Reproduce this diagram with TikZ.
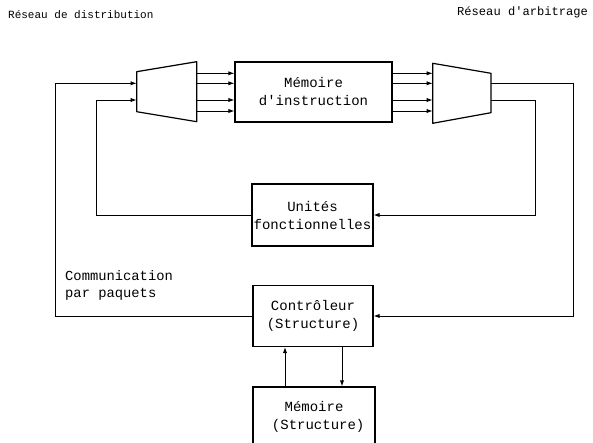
\documentclass[tikz,border=0pt]{standalone}
\usepackage{fontspec}
\setmonofont{Liberation Mono}
\usetikzlibrary{arrows.meta}
\tikzset{
  ln/.style={line width=0.9pt},
  arr/.style={ln,-{Latex[length=6pt,width=4.2pt]}},
  blk/.style={draw,line width=1.1pt,rectangle,inner sep=0pt,align=center,
    font=\ttfamily\fontsize{14}{18}\selectfont},
  trap/.style={draw,line width=1.2pt,line join=round},
  ttl/.style={inner sep=0pt,font=\ttfamily\fontsize{11}{14}\selectfont},
  lbl/.style={inner sep=0pt,align=left,font=\ttfamily\fontsize{13.8}{17.5}\selectfont}
}
\begin{document}
\begin{tikzpicture}[x=1pt,y=-1pt]
\useasboundingbox (0,0) rectangle (593,443);
\clip (0,0) rectangle (593,443);
\fill[white] (0,0) rectangle (593,443);

% titles
\node[ttl,anchor=west] (t1) at (8,15) {Réseau de distribution};
\node[ttl,anchor=west,font=\ttfamily\fontsize{12.1}{14}\selectfont] (t2) at (457,12) {Réseau d'arbitrage};

% boxes
\node[blk,minimum width=157,minimum height=60] (mem) at (313.5,92) {Mémoire\\d'instruction};
\node[blk,minimum width=121,minimum height=62] (unit) at (312.5,215) {Unités\\fonctionnelles};
\node[blk,minimum width=120,minimum height=61] (ctl) at (313,316) {Contrôleur\\(Structure)};
\node[blk,minimum width=122,minimum height=60] (mst) at (314,417) {Mémoire\\\ (Structure)};

\node[lbl,anchor=north west] (comm) at (65,270) {Communication\\par paquets};

% distribution trapezoid
\draw[trap] (136.7,71.7) -- (196.7,61.7) -- (196.7,121.7) -- (136.7,111.7) -- cycle;
\coordinate (dinA) at (136.7,83.3);
\coordinate (dinB) at (136.7,100);
\foreach \i/\y in {1/73.3,2/83.3,3/100,4/111}{
  \coordinate (dout\i) at (196.7,\y);
  \coordinate (ain\i) at (432.7,\y);
}
% arbitration trapezoid
\draw[trap] (432.7,63.3) -- (491,73.3) -- (491,112.7) -- (432.7,123.3) -- cycle;
\coordinate (aoutA) at (491,83.3);
\coordinate (aoutB) at (491,100.7);

% loop columns
\coordinate (lx1) at (55,0);
\coordinate (lx2) at (96,0);
\coordinate (rx1) at (573,0);
\coordinate (rx2) at (535,0);

% distribution -> memory -> arbitration
\foreach \i in {1,2,3,4}{
  \draw[arr] (dout\i) -- (dout\i -| mem.west);
  \draw[arr] (dout\i -| mem.east) -- (ain\i);
}

% loops
\draw[arr] (ctl.west) -| (dinA -| lx1) -- (dinA);
\draw[arr] (unit.west) -| (dinB -| lx2) -- (dinB);
\draw[arr] (aoutA) -| (ctl.east -| rx1) -- (ctl.east);
\draw[arr] (aoutB) -| (unit.east -| rx2) -- (unit.east);

% controller <-> structure memory
\coordinate (cx1) at (285,0);
\coordinate (cx2) at (342,0);
\draw[arr] (mst.north -| cx1) -- (ctl.south -| cx1);
\draw[arr] (ctl.south -| cx2) -- (mst.north -| cx2);
\end{tikzpicture}
\end{document}
